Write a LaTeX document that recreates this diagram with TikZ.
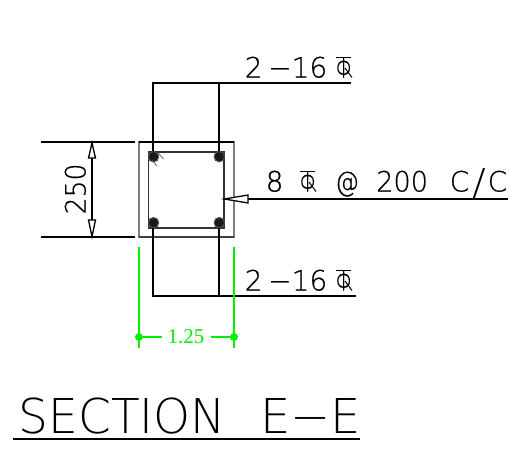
\documentclass[tikz,border=0pt]{standalone}
\usepackage{fontspec}
\setmainfont{DejaVu Sans ExtraLight}[FakeBold=0.5]
\newfontfamily\lightcad{DejaVu Sans ExtraLight}
\newfontfamily\serifgreen{Liberation Serif}
\definecolor{cadgreen}{RGB}{0,240,0}
\definecolor{cadgray}{RGB}{125,125,125}
\newcommand{\cadphi}{\leavevmode\rlap{\raisebox{.72em}{\rule{.78em}{.06em}}}Φ}
\tikzset{
  x=1pt,y=-1pt,
  heavy/.style={line width=2pt,black},
  thin gray/.style={line width=1.2pt,cadgray},
  green line/.style={line width=1.6pt,cadgreen},
  green dot/.style={fill=cadgreen,draw=none},
  tip/.style={line width=1.3pt,black,fill=white},
  cad/.style={inner sep=0pt,anchor=base west,font=\fontsize{28}{28}\selectfont},
  phi/.style={cad,xscale=.72,yscale=.95},
  leg/.style={line width=1pt,black},
  bigcad/.style={inner sep=0pt,anchor=base west,font=\lightcad\fontsize{48}{48}\selectfont},
  bar/.style={fill=black!90,draw=black!70,line width=1.2pt,dash pattern=on 1.1pt off .5pt}
}
\begin{document}
\begin{tikzpicture}
\useasboundingbox (0,0) rectangle (509,450);
% column outlines
\draw[thin gray] (139,142) rectangle (234,237);
\draw[line width=1.2pt,black!80] (148.5,152) rectangle (224,228);
\draw[line width=1.4pt,black] (139,142) -- (234,142);
\draw[line width=1.2pt,black!75] (139,237) -- (234,237);
% longitudinal bars
\draw[heavy] (351,83) -- (153,83) -- (153,156.5);
\draw[heavy] (219,83) -- (219,156.5);
\draw[heavy] (356,296) -- (153,296) -- (153,222.5);
\draw[heavy] (219,296) -- (219,222.5);
\foreach \p in {(153.5,156.7),(219.3,156.7),(153.5,222.7),(219.3,222.7)}
  \draw[bar] \p circle[radius=5.2];
\draw[line width=.7pt,black!70] (158,153) -- (163.5,159) (152,160) -- (157,166);
% stirrup leader
\draw[heavy] (508,199) -- (248,199);
\draw[tip] (224.5,199) -- (248,195) -- (248,203) -- cycle;
% height dimension
\draw[heavy] (41,142) -- (135,142);
\draw[heavy] (41,237) -- (135,237);
\draw[heavy] (92,142) -- (92,237);
\draw[tip] (92,143) -- (88.5,158) -- (95.5,158) -- cycle;
\draw[tip] (92,236.5) -- (88.5,220) -- (95.5,220) -- cycle;
% green dimension
\draw[green line] (139,247) -- (139,348);
\draw[green line] (234,247) -- (234,348);
\fill[green dot] (139,337) circle[radius=4];
\fill[green dot] (234,337) circle[radius=4];
\draw[green line] (139,337) -- (162,337);
\draw[green line] (211,337) -- (234,337);
\node[inner sep=0pt,text=cadgreen,font=\serifgreen\fontsize{21}{21}\selectfont] (dim) at (186,337) {1.25};
% texts
\node[cad] (topa) at (244.5,77.5) {2};
\node[cad] (topb) at (268,77.5) {−16};
\node[phi] (topc) at (335.5,77.5) {\cadphi};
\draw[leg] (345,68) -- (352,77.5);
\node[cad] (bota) at (244.5,290.5) {2};
\node[cad] (botb) at (268,290.5) {−16};
\node[phi] (botc) at (335.5,290.5) {\cadphi};
\draw[leg] (345,281) -- (352,290.5);
\node[cad] (sa) at (265.5,191.5) {8};
\node[phi] (sb) at (299.5,191.5) {\cadphi};
\draw[leg] (309,182) -- (316,191.5);
\node[cad,xscale=.85] (sc) at (335,191.5) {@};
\node[cad,xscale=.97] (sd) at (376,191.5) {200};
\node[cad] (se) at (449.5,191.5) {C};
\node[inner sep=0pt,anchor=base west,font=\lightcad\fontsize{37}{37}\selectfont,xscale=1.1] (sf) at (472,195) {/};
\node[cad] (sg) at (487.5,191.5) {C};
\node[cad,rotate=90,xscale=.95] (h) at (85.5,214.5) {250};
\node[bigcad,xscale=.98] (title) at (18.5,433.5) {SECTION};
\node[bigcad] (titleb) at (260,433.5) {E−E};
\draw[heavy] (13,438.5) -- (360,438.5);
\end{tikzpicture}
\end{document}
